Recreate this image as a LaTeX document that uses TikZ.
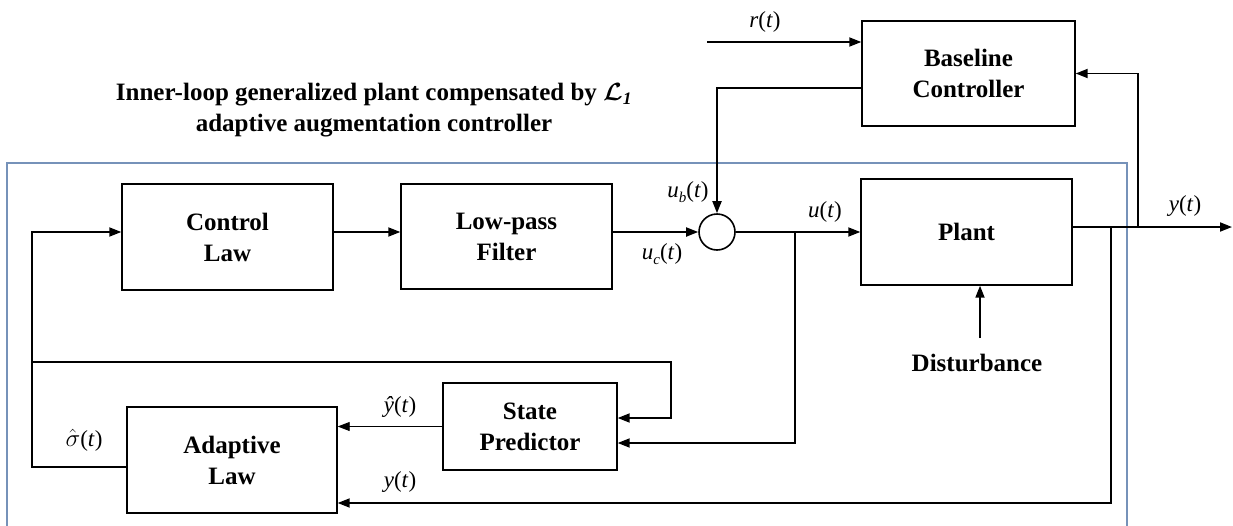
\documentclass[tikz,border=0pt]{standalone}
\usepackage{fontspec}
\usepackage{amsmath}
\setmainfont{Liberation Serif}
\usetikzlibrary{arrows.meta}
\definecolor{framec}{RGB}{118,146,185}
\newcommand\bxfont{\fontsize{25}{31}\selectfont\bfseries}
\newcommand\lblfont{\fontsize{23}{23}\selectfont}
\begin{document}
\begin{tikzpicture}[x=1pt,y=-1pt,
  blk/.style={draw, line width=1.4pt, inner sep=0pt, align=center, font=\bxfont},
  conn/.style={line width=1.8pt, -{Triangle[length=12pt,width=9pt]}},
  thinconn/.style={line width=0.9pt, -{Triangle[length=12pt,width=9pt]}},
  lbl/.style={font=\lblfont, inner sep=0pt}]
\useasboundingbox (0,0) rectangle (1233,525);
\draw[framec, line width=1.2pt] (7,530) -- (7,163) -- (1127,163) -- (1127,530);

\node[blk, minimum width=211pt, minimum height=106pt] (CL) at (227.5,237) {Control\\Law};
\node[blk, minimum width=211pt, minimum height=105pt] (LP) at (506.5,236.5) {Low-pass\\Filter};
\node[draw, circle, line width=1.6pt, minimum size=36pt, inner sep=0pt] (S) at (717,232) {};
\node[blk, minimum width=211pt, minimum height=106pt] (P) at (966.5,232) {Plant};
\node[blk, minimum width=213pt, minimum height=105pt] (BC) at (968.5,73.5) {Baseline\\Controller};
\node[blk, minimum width=174pt, minimum height=87pt] (SP) at (530,426.5) {State\\Predictor};
\node[blk, minimum width=210pt, minimum height=106pt] (AL) at (232,460) {Adaptive\\Law};
\node[font=\bxfont, inner sep=0pt] (D) at (977,363) {Disturbance};
\node[font=\bxfont\boldmath, align=center, inner sep=0pt] (T) at (374,110)
  {Inner-loop generalized plant compensated by $\mathcal{L}_{\mathit{1}}$\\adaptive augmentation controller};

\coordinate (rin) at (707,42);
\coordinate (yo) at (1232,227);
\coordinate (fbA) at (1138,227);
\coordinate (fbB) at (1111,227);
\coordinate (br) at (795,232);
\coordinate (lf) at (32,232);
\coordinate (j1) at (32,362);
\coordinate (k) at (671,362);
\coordinate (dtop) at (980,338);

\draw[conn] (CL.east|-S) -- (LP.west|-S);
\draw[conn] (LP.east|-S) -- (S.west);
\draw[conn] (S.east) -- (P.west|-S);
\draw[conn] ([yshift=-14.5pt]BC.west) -| (S.north);
\draw[conn] (rin) -- (rin-|BC.west);
\draw[conn] ([yshift=5pt]P.east) -- (yo);
\draw[conn] (fbA) |- (BC.east);
\draw[conn] (fbB) |- ([yshift=-43pt]AL.east);
\draw[thinconn] (SP.west) -- (SP.west-|AL.east);
\draw[conn] ([yshift=-7pt]AL.west) -| (lf) -- (CL.west|-S);
\draw[conn] (j1) -- (k) |- ([yshift=8.5pt]SP.east);
\draw[conn] (br) |- ([yshift=-16.5pt]SP.east);
\draw[conn] (dtop) -- (dtop|-P.south);

\node[lbl] (lr) at (765,22) {\textit{r}(\textit{t})};
\node[lbl] (lub) at (688,192) {\textit{u}\raisebox{-5pt}{\fontsize{15}{15}\selectfont\textit{b}}(\textit{t})};
\node[lbl] (luc) at (662,254) {\textit{u}\raisebox{-5pt}{\fontsize{15}{15}\selectfont\textit{c}}(\textit{t})};
\node[lbl] (lu) at (825,212) {\textit{u}(\textit{t})};
\node[lbl] (ly1) at (1185,206) {\textit{y}(\textit{t})};
\node[lbl] (lyh) at (400,407) {\textit{ŷ}(\textit{t})};
\node[lbl] (ly2) at (400,482) {\textit{y}(\textit{t})};
\node[lbl] (ls) at (84,440) {$\hat{\sigma}$(\textit{t})};
\end{tikzpicture}
\end{document}
